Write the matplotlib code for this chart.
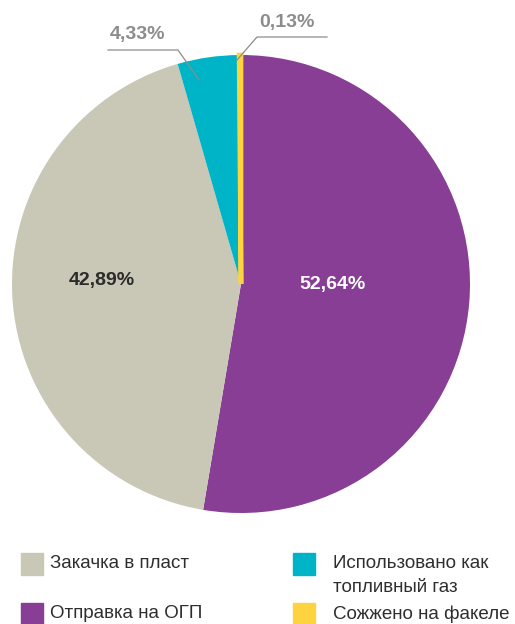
import matplotlib
matplotlib.use("Agg")
import matplotlib.pyplot as plt
from matplotlib.patches import Rectangle

plt.rcParams['font.family'] = ['Liberation Sans', 'DejaVu Sans']

# Data (clockwise from 12 o'clock)
categories = ["Отправка на ОГП", "Закачка в пласт", "Использовано как\nтопливный газ", "Сожжено на факеле"]
values = [52.64, 42.89, 4.33, 0.13]
value_labels = ["52,64%", "42,89%", "4,33%", "0,13%"]
colors = ["#873E94", "#C9C8B7", "#00B4C8", "#FDD43F"]

# legend order (left col gray, purple; right col teal, yellow)
legend_order = [1, 0, 2, 3]

W, H = 515, 624
fig = plt.figure(figsize=(W / 100, H / 100), dpi=100)
ax = fig.add_axes([0, 0, 1, 1])

cx, cy, r = 241, H - 284, 229
wedges, _ = ax.pie(values, colors=colors, startangle=90, counterclock=False,
                   center=(cx, cy), radius=r, frame=True,
                   wedgeprops=dict(linewidth=0))
# make the tiny flare slice visible like the reference
wedges[3].set_edgecolor(colors[3])
wedges[3].set_linewidth(3.4)
wedges[3].set_zorder(3)

ax.set_xlim(0, W)
ax.set_ylim(0, H)
ax.set_aspect('auto')
ax.axis('off')

def Y(y):
    return H - y

# inner labels
ax.text(333, Y(284), value_labels[0], ha='center', va='center', fontsize=14,
        fontweight='bold', color='white')
ax.text(102, Y(281), value_labels[1], ha='center', va='center', fontsize=14,
        fontweight='bold', color='#2B2B2B')

# outer labels with leader lines
lc = '#8C8C8C'
ax.plot([108, 178, 199], [Y(50), Y(50), Y(80)], color=lc, lw=0.9, zorder=5)
ax.text(137, Y(35), value_labels[2], ha='center', va='center', fontsize=14,
        fontweight='bold', color=lc)
ax.plot([327, 257, 237], [Y(37), Y(37), Y(60)], color=lc, lw=0.9, zorder=5)
ax.text(287, Y(23), value_labels[3], ha='center', va='center', fontsize=14,
        fontweight='bold', color=lc)

# legend
slots = [(21, 553, 50), (21, 603, 50), (293, 553, 333), (293, 603, 333)]
for (sx, sy, tx), idx in zip(slots, legend_order):
    ax.add_patch(Rectangle((sx, Y(sy + 22)), 22, 22, color=colors[idx],
                           clip_on=False, zorder=4))
    lines = categories[idx].split("\n")
    for k, line in enumerate(lines):
        ax.text(tx, Y(sy + 11 + k * 23), line, ha='left', va='center',
                fontsize=13.5, color='#2E2E2E')

fig.savefig("out.png", dpi=100)
